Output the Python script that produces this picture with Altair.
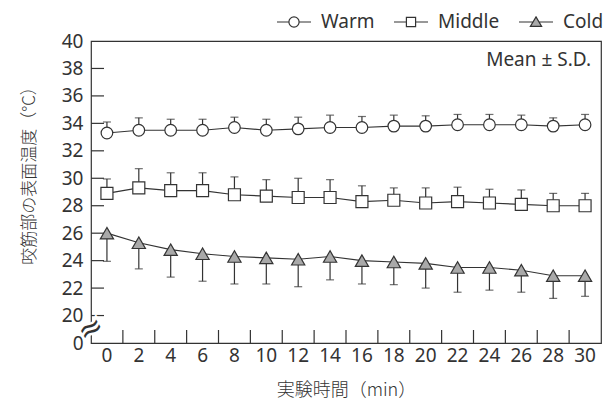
import altair as alt
import pandas as pd

# Sampling times (min)
times = [0, 2, 4, 6, 8, 10, 12, 14, 16, 18, 20, 22, 24, 26, 28, 30]
groups = ["Warm", "Middle", "Cold"]
y_tick_values = [20, 22, 24, 26, 28, 30, 32, 34, 36, 38]

# Masseter surface temperature, mean and S.D. per condition
warm_mean = [33.3, 33.5, 33.5, 33.5, 33.7, 33.5, 33.6, 33.7, 33.7, 33.8, 33.8, 33.9, 33.9, 33.9, 33.8, 33.9]
warm_sd = [0.8, 0.9, 0.8, 0.8, 0.75, 0.8, 0.85, 0.9, 0.8, 0.8, 0.75, 0.75, 0.75, 0.7, 0.6, 0.75]
middle_mean = [28.9, 29.3, 29.1, 29.1, 28.8, 28.7, 28.6, 28.6, 28.3, 28.4, 28.2, 28.3, 28.2, 28.1, 28.0, 28.0]
middle_sd = [1.05, 1.4, 1.3, 1.3, 1.3, 1.2, 1.4, 1.3, 1.15, 0.9, 1.1, 1.05, 1.0, 1.05, 0.9, 0.9]
cold_mean = [26.0, 25.3, 24.8, 24.5, 24.3, 24.2, 24.1, 24.3, 24.0, 23.9, 23.8, 23.5, 23.5, 23.3, 22.9, 22.9]
cold_sd = [2.05, 1.9, 2.0, 2.0, 2.0, 1.9, 2.0, 1.7, 1.7, 1.65, 1.8, 1.8, 1.65, 1.6, 1.65, 1.5]

# Error bars drawn on one side only: upward for Warm/Middle, downward for Cold
bar_side = {"Warm": 1, "Middle": 1, "Cold": -1}

rows = []
for g, means, sds in [("Warm", warm_mean, warm_sd), ("Middle", middle_mean, middle_sd), ("Cold", cold_mean, cold_sd)]:
    for t, m, s in zip(times, means, sds):
        rows.append({"time": t, "group": g, "mean": m, "sd": s, "end": m + bar_side[g] * s})
df = pd.DataFrame(rows)

INK = "#333333"
COLD_FILL = "#a9a9a9"
LATIN = "Noto Sans"
CJK = "Noto Sans CJK JP"
W, H = 510, 302
TICK = 13

x_scale = alt.Scale(type="band", domain=times, paddingInner=0, paddingOuter=0)
x_axis = alt.Axis(
    title="実験時間（min）",
    titleFont=CJK, titleFontSize=18, titleFontWeight=300, titleColor=INK,
    titleBaseline="middle", titleY=47, titleX=W / 2,
    labelFont=LATIN, labelFontSize=19, labelColor=INK, labelAngle=0, labelAlign="center",
    labelPadding=12, labelOverlap=False, ticks=False, domain=False, grid=False,
)
x_enc = alt.X("time:O", scale=x_scale, axis=x_axis)

y_scale = alt.Scale(domain=[18, 40], nice=False, zero=False)
y_axis = alt.Axis(
    title="咬筋部の表面温度（°C）",
    titleFont=CJK, titleFontSize=17, titleFontWeight=300, titleColor=INK,
    titleAngle=270, titleAlign="center", titleBaseline="middle", titleX=-62, titleY=130,
    values=[18] + y_tick_values + [40], tickCount=30,
    labelExpr="datum.value == 18 ? '0' : datum.label",
    labelFont=LATIN, labelFontSize=19, labelColor=INK, labelPadding=8,
    labelOverlap=False, ticks=False, domain=False, grid=False,
)
y_enc = alt.Y("mean:Q", scale=y_scale, axis=y_axis)

base = alt.Chart(df)

lines = base.mark_line(color=INK, strokeWidth=1.2).encode(x=x_enc, y=y_enc, detail="group:N")

bars = base.mark_rule(color=INK, strokeWidth=1.2).encode(x=x_enc, y=y_enc, y2="end:Q")
caps = base.mark_tick(color=INK, thickness=1.2, size=8).encode(x=x_enc, y=alt.Y("end:Q", scale=y_scale))

marker_style = {
    "Warm": dict(shape="circle", fill="white", size=135),
    "Middle": dict(shape="square", fill="white", size=144),
    "Cold": dict(shape="triangle-up", fill=COLD_FILL, size=175),
}
markers = [
    base.transform_filter(alt.datum.group == g)
    .mark_point(filled=True, stroke=INK, strokeWidth=1.2, opacity=1, **marker_style[g])
    .encode(x=x_enc, y=y_enc)
    for g in groups
]

# Inward ticks: y ticks at the values, x ticks on the boundaries between time bins
y_ticks = alt.Chart(pd.DataFrame({"v": y_tick_values})).mark_rule(color=INK, strokeWidth=1.2).encode(
    y=alt.Y("v:Q", scale=y_scale), x=alt.value(0), x2=alt.value(TICK)
)
x_ticks = alt.Chart(pd.DataFrame({"time": times[1:]})).mark_rule(color=INK, strokeWidth=1.2).encode(
    x=alt.X("time:O", scale=x_scale, bandPosition=0), y=alt.value(H), y2=alt.value(H - TICK)
)

# Legend glyphs: a short line with the group's marker in the middle
legend_paths = [
    "M-1,0H-0.3M0.3,0H1M0.3,0A0.3,0.3,0,1,1,-0.3,0A0.3,0.3,0,1,1,0.3,0Z",
    "M-1,0H-0.27M0.27,0H1M-0.27,-0.27H0.27V0.27H-0.27Z",
    "M-1,0H-0.2M0.2,0H1M0,-0.3L0.33,0.26H-0.33Z",
]
legend_spec = alt.Legend(
    title=None, orient="none", legendX=185, legendY=-37, direction="horizontal",
    symbolSize=1156, symbolStrokeWidth=1.2, symbolOpacity=1,
    labelFont=LATIN, labelFontSize=19, labelColor=INK, labelOffset=9, columnPadding=16,
)
# Legend-only layer: no rows pass the filter, the entries come from the fixed domains
legend_layer = base.transform_filter("datum.time < 0").mark_point(filled=True, strokeWidth=1.2).encode(
    x=x_enc,
    y=y_enc,
    shape=alt.Shape("group:N", scale=alt.Scale(domain=groups, range=legend_paths), legend=legend_spec),
    fill=alt.Fill("group:N", scale=alt.Scale(domain=groups, range=["white", "white", COLD_FILL]), legend=legend_spec),
    stroke=alt.Stroke("group:N", scale=alt.Scale(domain=groups, range=[INK, INK, INK]), legend=legend_spec),
)

note = alt.Chart(pd.DataFrame({"t": ["Mean ± S.D."]})).mark_text(
    align="right", baseline="alphabetic", font=LATIN, fontSize=19, color=INK
).encode(x=alt.value(W - 10), y=alt.value(25), text="t:N")

# Axis break mark between 0 and 20
brk = pd.DataFrame({"t": ["≈"], "v": [19.0]})
break_halo = alt.Chart(brk).mark_text(
    font="DejaVu Sans", fontSize=30, angle=330, color="white", stroke="white", strokeWidth=5
).encode(x=alt.value(0), y=alt.Y("v:Q", scale=y_scale), text="t:N")
break_mark = alt.Chart(brk).mark_text(
    font="DejaVu Sans", fontSize=30, angle=330, color=INK
).encode(x=alt.value(0), y=alt.Y("v:Q", scale=y_scale), text="t:N")

chart = (
    alt.layer(y_ticks, x_ticks, lines, bars, caps, *markers, legend_layer, note, break_halo, break_mark)
    .properties(
        width=W, height=H,
        autosize=alt.AutoSizeParams(type="none"),
        padding={"left": 91, "top": 41, "right": 5, "bottom": 65},
        background="white",
    )
    .configure_view(stroke=INK, strokeWidth=1.2)
)

chart.save("out.html", embed_options={"renderer": "svg", "actions": False})
